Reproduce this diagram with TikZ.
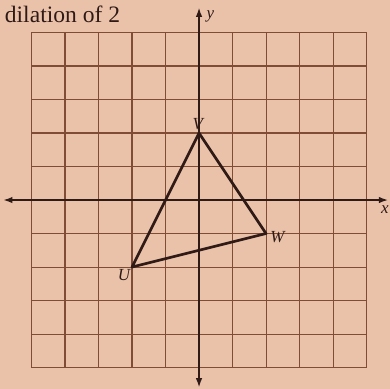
\documentclass[tikz,border=0pt]{standalone}
\usepackage{xcolor}
\usepackage{fontspec}
\setmainfont{Liberation Serif}
\usetikzlibrary{
	arrows.meta,
	positioning
}
\definecolor{Paper}{RGB}{234,194,170}
\definecolor{GridBrown}{RGB}{128,76,54}
\definecolor{InkDark}{RGB}{48,26,22}

\begin{document}
\begin{tikzpicture}[x=1cm,y=1cm,
		axisline/.style={InkDark,line width=1.5pt,{Latex[length=8pt,width=5.5pt]}-{Latex[length=8pt,width=5.5pt]}},
		ptlabel/.style={InkDark,font=\Large\itshape,inner sep=1.5pt}]
		% 纸面与边界
		\fill[Paper] (-5.94,-5.64) rectangle (5.7,5.97);
		\useasboundingbox (-5.94,-5.64) rectangle (5.7,5.97);
		
		\coordinate (U) at (-2,-2);
		\coordinate (V) at (0,2);
		\coordinate (W) at (2,-1);
		\coordinate (xLeft) at (-5.85,0);
		\coordinate (xRight) at (5.65,0);
		\coordinate (yBot) at (0,-5.6);
		\coordinate (yTop) at (0,5.75);
		
		% 题目
		\node[InkDark,anchor=base west,inner sep=0pt,font=\fontsize{20}{24}\selectfont] (title) at (-5.8,5.3) {dilation of 2};
		
		% 网格
		\draw[GridBrown,line width=0.9pt] (-5,-5) grid (5,5);
		
		% 坐标轴
		\draw[axisline] (xLeft) -- (xRight);
		\draw[axisline] (yBot) -- (yTop);
		\node[InkDark,font=\Large\itshape,below=1pt of xRight,xshift=-3pt] (xlab) {x};
		\node[InkDark,font=\Large\itshape,right=3pt of yTop,yshift=-8pt] (ylab) {y};
		
		% 三角形
		\draw[InkDark,line width=2.3pt,line join=round] (U) -- (V) -- (W) -- cycle;
		
		% 顶点
		\node[ptlabel,above=1pt of V,xshift=-1pt] (Vlab) {V};
		\node[ptlabel,right=2pt of W,yshift=-3pt] (Wlab) {W};
		\node[ptlabel,below left=0pt and 0pt of U] (Ulab) {U};
	\end{tikzpicture}
\end{document}
